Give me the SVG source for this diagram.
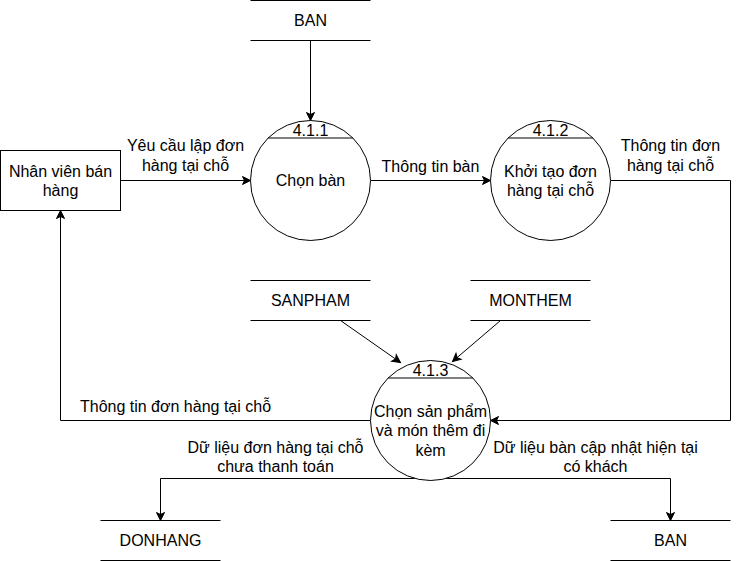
<svg xmlns="http://www.w3.org/2000/svg" width="740" height="561" viewBox="0 0 740 561">
<style>
text{font-family:"Liberation Sans",Arial,sans-serif;font-size:16px;fill:#000;text-anchor:middle}
.s{fill:none;stroke:#000;stroke-width:1}
.p{fill:#fff;stroke:#000;stroke-width:1}
.e{fill:none;stroke:#000;stroke-width:1;marker-end:url(#arr)}
</style>
<defs>
<marker id="arr" markerUnits="userSpaceOnUse" markerWidth="10" markerHeight="10" refX="8" refY="4" orient="auto" overflow="visible">
<path d="M0,0 L8,4 L0,8 L2,4 Z" fill="#000" stroke="#000" stroke-width="1"/>
</marker>
</defs>
<rect width="740" height="561" fill="#fff"/>
<g transform="translate(0.5,0.5)">
<g id="connectors">
<path class="e" d="M310,40 L310,120"/>
<path class="e" d="M120,180 L250,180"/>
<path class="e" d="M370,180 L490,180"/>
<path class="e" d="M610,180 L730,180 L730,420 L490,420"/>
<path class="e" d="M340,320 L400,362"/>
<path class="e" d="M500,320 L452,361"/>
<path class="e" d="M370,420 L60,420 L60,210"/>
<path class="e" d="M415,478 L160,478 L160,520"/>
<path class="e" d="M445,478 L670,478 L670,520"/>
<text x="185" y="150">Yêu cầu lập đơn</text>
<text x="185" y="170">hàng tại chỗ</text>
<text x="430" y="171">Thông tin bàn</text>
<text x="670" y="150.5">Thông tin đơn</text>
<text x="670" y="170">hàng tại chỗ</text>
<text x="175" y="411">Thông tin đơn hàng tại chỗ</text>
<text x="275" y="452">Dữ liệu đơn hàng tại chỗ</text>
<text x="275" y="471">chưa thanh toán</text>
<text x="595" y="452">Dữ liệu bàn cập nhật hiện tại</text>
<text x="595" y="471">có khách</text>
</g>
<g id="nhanvien">
<rect class="p" x="0" y="150" width="120" height="60"/>
<text x="60" y="176">Nhân viên bán</text>
<text x="60" y="195">hàng</text>
</g>
<g id="ban-top">
<path class="s" d="M250,0 L370,0 M250,40 L370,40"/>
<text x="310" y="25.5">BAN</text>
</g>
<g id="p411">
<circle class="p" cx="310" cy="180" r="60"/>
<path class="s" d="M267.6,137.5 L352.4,137.5"/>
<text x="310" y="135.5">4.1.1</text>
<text x="310" y="185.5">Chọn bàn</text>
</g>
<g id="p412">
<circle class="p" cx="550" cy="180" r="60"/>
<path class="s" d="M507.6,137.5 L592.4,137.5"/>
<text x="550" y="135.5">4.1.2</text>
<text x="550" y="176">Khởi tạo đơn</text>
<text x="550" y="195">hàng tại chỗ</text>
</g>
<g id="sanpham">
<path class="s" d="M250,280 L370,280 M250,320 L370,320"/>
<text x="310" y="305.5">SANPHAM</text>
</g>
<g id="monthem">
<path class="s" d="M470,280 L590,280 M470,320 L590,320"/>
<text x="530" y="305.5">MONTHEM</text>
</g>
<g id="p413">
<circle class="p" cx="430" cy="420" r="60"/>
<path class="s" d="M387.6,377.5 L472.4,377.5"/>
<text x="430" y="375.5">4.1.3</text>
<text x="430" y="416">Chọn sản phẩm</text>
<text x="430" y="435.5">và món thêm đi</text>
<text x="430" y="455">kèm</text>
</g>
<g id="donhang">
<path class="s" d="M100,520 L220,520 M100,560 L220,560"/>
<text x="160" y="545.5">DONHANG</text>
</g>
<g id="ban-bottom">
<path class="s" d="M610,520 L730,520 M610,560 L730,560"/>
<text x="670" y="545.5">BAN</text>
</g>
</g>
</svg>
